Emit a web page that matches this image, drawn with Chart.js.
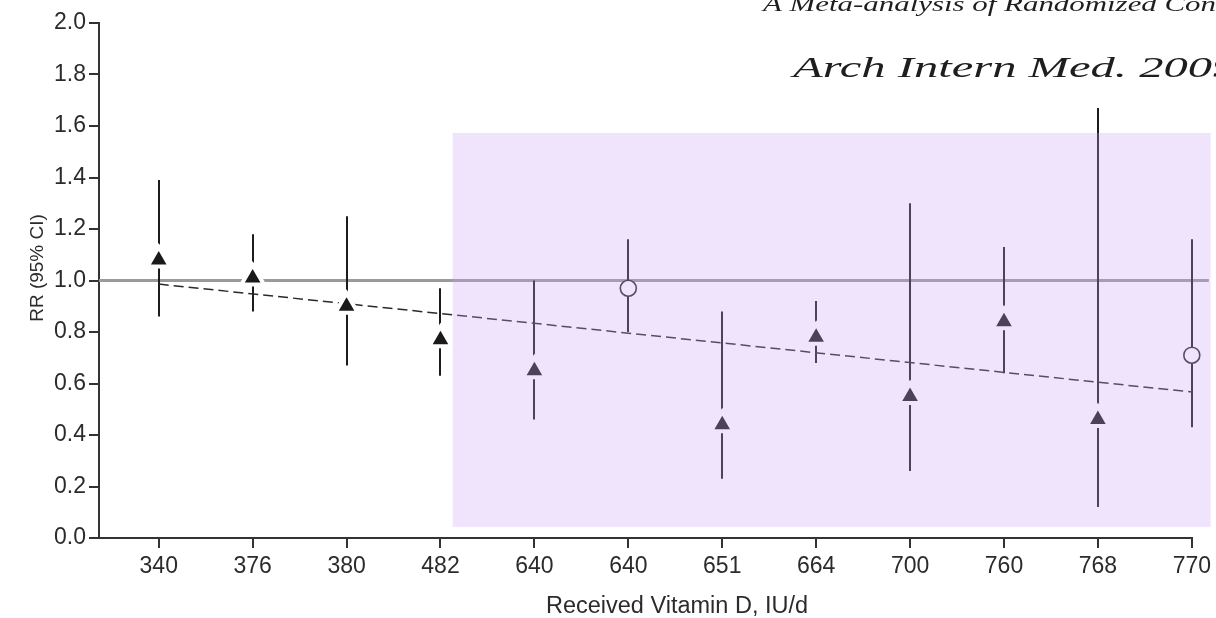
<!DOCTYPE html>
<html><head><meta charset="utf-8">
<script src="https://cdn.jsdelivr.net/npm/chart.js@4.4.0/dist/chart.umd.min.js"></script>
<style>html,body{margin:0;padding:0;background:#fff;}canvas{display:block;}</style>
</head><body>
<canvas id="c" width="1216" height="618"></canvas>
<script>
// ---- data ----
const doseLabels   = ['340','376','380','482','640','640','651','664','700','760','768','770'];
const relativeRisk = [1.08, 1.01, 0.90, 0.77, 0.65, 0.97, 0.44, 0.78, 0.55, 0.84, 0.46, 0.71];
const ciLower      = [0.86, 0.88, 0.67, 0.63, 0.46, 0.80, 0.23, 0.68, 0.26, 0.64, 0.12, 0.43];
const ciUpper      = [1.39, 1.18, 1.25, 0.97, 1.00, 1.16, 0.88, 0.92, 1.30, 1.13, 1.67, 1.16];
const markerKind   = ['triangle','triangle','triangle','triangle','triangle','circle',
                      'triangle','triangle','triangle','triangle','triangle','circle'];
const trendEnds    = [0.986, 0.567];        // fitted RR at first and last category
const referenceRR  = 1.0;
const shadedBand   = [3.13, 11.2, 0.043, 1.573]; // from idx, to idx, low RR, high RR
const xAxisTitle   = 'Received Vitamin D, IU/d';
const yAxisTitle   = 'RR (95% CI)';
const headerLines  = ['A Meta-analysis of Randomized Controlled Trials', 'Arch Intern Med. 2009'];

const SANS = '"Liberation Sans Narrow", "Arial Narrow", "Liberation Sans", sans-serif';
const SERIF = '"Liberation Serif", "DejaVu Serif", serif';

const triPts = [], circPts = [];
relativeRisk.forEach((v, i) => (markerKind[i] === 'circle' ? circPts : triPts).push({x: i, y: v}));
const trendPts = [{x: 0, y: trendEnds[0]}, {x: doseLabels.length - 1, y: trendEnds[1]}];

const underlay = {
  id: 'underlay',
  beforeDatasetsDraw(chart) {
    const {ctx, scales: {x, y}, chartArea: a} = chart;
    ctx.save();
    ctx.strokeStyle = '#9a9a9a';
    ctx.lineWidth = 3;
    ctx.beginPath();
    const yr = y.getPixelForValue(referenceRR);
    ctx.moveTo(a.left, yr); ctx.lineTo(a.right + 17, yr); ctx.stroke();
    ctx.strokeStyle = '#1c1c1c';
    ctx.lineWidth = 2;
    ciLower.forEach((lo, i) => {
      const px = Math.round(x.getPixelForValue(i));
      ctx.beginPath();
      ctx.moveTo(px, y.getPixelForValue(lo));
      ctx.lineTo(px, y.getPixelForValue(ciUpper[i]));
      ctx.stroke();
    });
    ctx.restore();
  }
};

const overlay = {
  id: 'overlay',
  afterDraw(chart) {
    const {ctx, scales: {x, y}} = chart;
    ctx.save();
    const x0 = x.getPixelForValue(shadedBand[0]), x1 = x.getPixelForValue(shadedBand[1]);
    const y0 = y.getPixelForValue(shadedBand[3]), y1 = y.getPixelForValue(shadedBand[2]);
    ctx.fillStyle = 'rgba(203,162,245,0.29)';
    ctx.fillRect(x0, y0, x1 - x0, y1 - y0);
    ctx.fillStyle = '#2b2b2b';
    ctx.font = '23.5px ' + SANS;
    ctx.textAlign = 'center';
    ctx.textBaseline = 'alphabetic';
    ctx.fillText(xAxisTitle, 677, 613);
    ctx.save();
    ctx.translate(43, 268);
    ctx.rotate(-Math.PI / 2);
    ctx.font = '19px ' + SANS;
    ctx.fillText(yAxisTitle, 0, 0);
    ctx.restore();
    ctx.textAlign = 'left';
    ctx.fillStyle = '#1e1e1e';
    ctx.font = 'italic 30px ' + SERIF;
    const sx2 = 419 / ctx.measureText('Arch Intern Med. 200').width;
    ctx.save(); ctx.translate(793, 77); ctx.scale(sx2, 1);
    ctx.fillText(headerLines[1], 0, 0); ctx.restore();
    ctx.font = 'italic 20px ' + SERIF;
    const sx1 = 453 / ctx.measureText('A Meta-analysis of Randomized Con').width;
    ctx.save(); ctx.translate(763, 11); ctx.scale(sx1, 1);
    ctx.fillText(headerLines[0], 0, 0); ctx.restore();
    ctx.restore();
  }
};

new Chart(document.getElementById('c'), {
  type: 'scatter',
  data: {
    datasets: [
      {data: triPts, pointStyle: 'triangle', pointRadius: 13, pointHoverRadius: 13,
       backgroundColor: '#1a1a1a', borderColor: '#ffffff', borderWidth: 4, clip: false},
      {data: circPts, pointStyle: 'circle', pointRadius: 8, pointHoverRadius: 8,
       backgroundColor: '#ffffff', borderColor: '#2a2a2a', borderWidth: 1.6, clip: false},
      {type: 'line', data: trendPts, showLine: true, pointRadius: 0, borderColor: '#2a2a2a',
       borderWidth: 1.5, borderDash: [10, 5], fill: false, clip: false}
    ]
  },
  options: {
    responsive: false, animation: false, devicePixelRatio: 1,
    layout: {padding: {top: 23, right: 20, left: 0, bottom: 0}},
    plugins: {legend: {display: false}, tooltip: {enabled: false}},
    scales: {
      x: {
        type: 'linear', min: -0.636, max: doseLabels.length - 1,
        afterBuildTicks: s => { s.ticks = doseLabels.map((_, i) => ({value: i})); },
        afterFit: s => { s.height = 80; },
        ticks: {callback: (v) => doseLabels[Math.round(v)], font: {family: SANS, size: 23},
                color: '#2b2b2b', padding: 5, maxRotation: 0, autoSkip: false},
        grid: {drawOnChartArea: false, drawTicks: true, tickLength: 10, color: '#333', lineWidth: 2},
        border: {color: '#333', width: 2}
      },
      y: {
        min: 0, max: 2,
        afterFit: s => { s.width = 99; },
        ticks: {stepSize: 0.2, callback: v => v.toFixed(1), font: {family: SANS, size: 23},
                color: '#2b2b2b', padding: 3},
        grid: {drawOnChartArea: false, drawTicks: true, tickLength: 10, color: '#333', lineWidth: 2},
        border: {color: '#333', width: 2}
      }
    }
  },
  plugins: [underlay, overlay]
});
</script>
</body></html>
